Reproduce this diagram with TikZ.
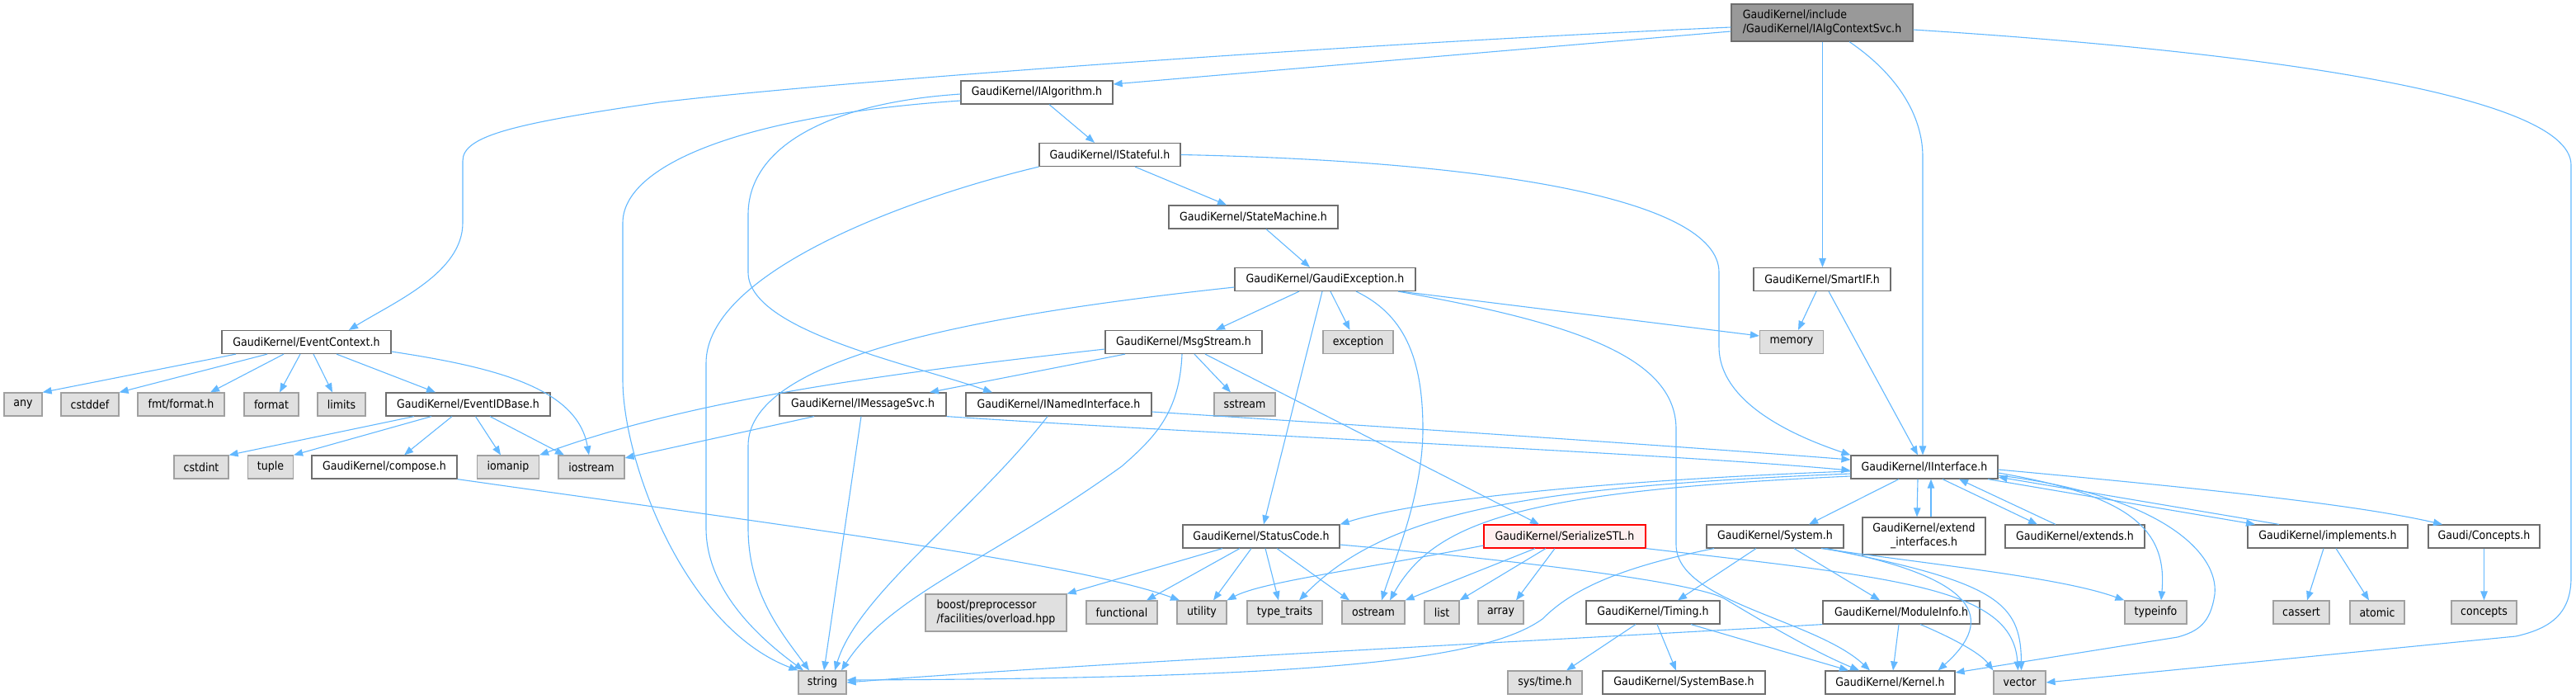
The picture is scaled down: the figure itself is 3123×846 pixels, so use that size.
\documentclass[tikz,border=0pt]{standalone}
\usepackage{fontspec}
\setmainfont{DejaVu Sans Condensed}
\usepackage{xcolor}
\definecolor{inclblue}{RGB}{99, 184, 255}
\definecolor{hdrgray}{RGB}{110, 110, 110}
\definecolor{stdgray}{RGB}{160, 160, 160}
\definecolor{stdfill}{RGB}{224, 224, 224}
\definecolor{mainfill}{RGB}{153, 153, 153}
\definecolor{cutred}{RGB}{255, 0, 0}
\definecolor{cutfill}{RGB}{255, 240, 240}
\usetikzlibrary{arrows.meta}

\tikzset{
    hdr/.style={draw=hdrgray, fill=white, line width=1.2pt, minimum height=28pt,
        inner sep=0pt, font=\fontsize{14}{17}\selectfont},
    stdhdr/.style={hdr, draw=stdgray, fill=stdfill},
    mainhdr/.style={hdr, fill=mainfill, minimum height=45pt, align=left},
    cuthdr/.style={hdr, draw=cutred, fill=cutfill},
    incl/.style={draw=inclblue, line width=1.1pt, -{Triangle[length=11pt, width=8.5pt]}}
}

\begin{document}
\begin{tikzpicture}[x=1pt, y=-1pt]

\useasboundingbox (0,0) rectangle (3123,846);

% =====================================================
% NODOS: ficheros de cabecera
% =====================================================

% --- Fichero principal ---
\node[mainhdr, minimum width=220pt] (root) at (2209,27.5)
    {GaudiKernel/include\\/GaudiKernel/IAlgContextSvc.h};

% --- Cadena IAlgorithm -> GaudiException ---
\node[hdr, minimum width=184pt] (ialg) at (1257,112) {GaudiKernel/IAlgorithm.h};
\node[hdr, minimum width=171pt] (istate) at (1345.5,187.5) {GaudiKernel/IStateful.h};
\node[hdr, minimum width=205pt] (statem) at (1519.5,263) {GaudiKernel/StateMachine.h};
\node[hdr, minimum width=219pt] (gexc) at (1606.5,338.5) {GaudiKernel/GaudiException.h};
\node[hdr, minimum width=166pt] (smartif) at (2209,338.5) {GaudiKernel/SmartIF.h};

% --- Fila de EventContext / MsgStream ---
\node[hdr, minimum width=205pt] (evctx) at (371.5,414.5) {GaudiKernel/EventContext.h};
\node[hdr, minimum width=190pt] (msgs) at (1435,414.5) {GaudiKernel/MsgStream.h};
\node[stdhdr, minimum width=85pt] (exc) at (1646.5,414.5) {exception};
\node[stdhdr, minimum width=77pt] (memory) at (2172,414.5) {memory};

% --- Fila 490 ---
\foreach \nm/\cx/\bw/\txt in {any/28/46/any, cstddef/109/70/cstddef,
        fmtfmt/219.5/105/{fmt/format.h}, format/329/66/format,
        limits/414/58/limits, sstream/1509/74/sstream} {
    \node[stdhdr, minimum width=\bw pt] (\nm) at (\cx,490) {\txt};
}
\node[hdr, minimum width=199pt] (evid) at (567.5,490) {GaudiKernel/EventIDBase.h};
\node[hdr, minimum width=202pt] (imsg) at (1046,490) {GaudiKernel/IMessageSvc.h};
\node[hdr, minimum width=225pt] (inamed) at (1283.5,490) {GaudiKernel/INamedInterface.h};

% --- Fila 566 ---
\foreach \nm/\cx/\bw/\txt in {cstdint/244/66/cstdint, tuple/328/55/tuple,
        iomanip/616/75/iomanip, iostream/717/80/iostream} {
    \node[stdhdr, minimum width=\bw pt] (\nm) at (\cx,566) {\txt};
}
\node[hdr, minimum width=176pt] (compose) at (466,566) {GaudiKernel/compose.h};
\node[hdr, minimum width=178pt] (iiface) at (2333,566) {GaudiKernel/IInterface.h};

% --- Fila 650 ---
\node[hdr, minimum width=190pt] (status) at (1529,650) {GaudiKernel/StatusCode.h};
\node[cuthdr, minimum width=196pt] (serial) at (1897,650) {GaudiKernel/SerializeSTL.h};
\node[hdr, minimum width=166pt] (system) at (2152,650) {GaudiKernel/System.h};
\node[hdr, minimum width=149pt, minimum height=45pt, align=center] (extend) at (2332.5,649.5)
    {GaudiKernel/extend\\\_interfaces.h};
\node[hdr, minimum width=169pt] (extends) at (2515.5,650) {GaudiKernel/extends.h};
\node[hdr, minimum width=194pt] (implem) at (2822,650) {GaudiKernel/implements.h};
\node[hdr, minimum width=135pt] (concepth) at (3011.5,650) {Gaudi/Concepts.h};

% --- Fila 742 ---
\node[stdhdr, minimum width=171pt, minimum height=45pt, align=left] (boost) at (1207.5,742.5)
    {boost/preprocessor\\/facilities/overload.hpp};
\foreach \nm/\cx/\bw/\txt in {functional/1360/86/functional, utility/1457/60/utility,
        typetr/1557.5/91/type\_traits, ostream/1665/76/ostream, list/1748/42/list,
        array/1819.5/55/array, typeinfo/2613.5/75/typeinfo, cassert/2790/68/cassert,
        atomic/2882/66/atomic, concepts/3011.5/79/concepts} {
    \node[stdhdr, minimum width=\bw pt] (\nm) at (\cx,742) {\txt};
}
\node[hdr, minimum width=162pt] (timing) at (2004,742) {GaudiKernel/Timing.h};
\node[hdr, minimum width=190pt] (modinfo) at (2305,742) {GaudiKernel/ModuleInfo.h};

% --- Fila 827 ---
\foreach \nm/\cx/\bw/\txt in {string/997/58/string, systime/1873/90/{sys/time.h},
        vector/2448.5/63/vector} {
    \node[stdhdr, minimum width=\bw pt] (\nm) at (\cx,827) {\txt};
}
\node[hdr, minimum width=197pt] (sysbase) at (2041.5,827) {GaudiKernel/SystemBase.h};
\node[hdr, minimum width=157pt] (kernel) at (2291.5,827) {GaudiKernel/Kernel.h};

% =====================================================
% DEPENDENCIAS (#include)
% =====================================================

% --- desde IAlgContextSvc.h ---
\draw[incl] ([yshift=-10.5]root.west) -- ([yshift=10]ialg.east);
\draw[incl] ([yshift=-5.5]root.west) .. controls (1600,55) and (1000,100) .. (800,124)
    .. controls (620,150) and (561,165) .. (561,195) -- (561,270)
    .. controls (561,330) and (480,365) .. ([xshift=51.5]evctx.north);
\draw[incl] ([xshift=0.5]root.south) -- ([xshift=0.5]smartif.north);
\draw[incl] ([xshift=33]root.south) .. controls (2300,90) and (2331,140) .. (2331,190)
    -- ([xshift=-2]iiface.north);
\draw[incl] ([yshift=-8.5]root.east) .. controls (2700,60) and (3117,110) .. (3117,200)
    -- (3117,700) .. controls (3117,745) and (3090,762) .. (3050,771) -- (vector.east);

% --- desde IAlgorithm.h ---
\draw[incl] ([xshift=15]ialg.south) -- ([xshift=-18.5]istate.north);
\draw[incl] ([yshift=-2]ialg.west) .. controls (1000,125) and (907,180) .. (907,260)
    -- (907,330) .. controls (907,400) and (1100,440) .. ([xshift=-80.5]inamed.north);
\draw[incl] ([yshift=-10]ialg.west) .. controls (900,140) and (755,200) .. (755,270)
    -- (755,460) .. controls (755,560) and (830,760) .. (string.north west);

% --- desde IStateful.h ---
\draw[incl] ([xshift=30.5]istate.south) -- ([xshift=-32.5]statem.north);
\draw[incl] (istate.east) .. controls (1800,195) and (2084,240) .. (2084,330)
    -- (2084,420) .. controls (2084,490) and (2180,530) .. (iiface.north west);
\draw[incl] (istate.south west) .. controls (1100,240) and (856,330) .. (856,440)
    -- (856,640) .. controls (856,720) and (930,780) .. ([xshift=-23]string.north);

% --- desde StateMachine.h ---
\draw[incl] ([xshift=15.5]statem.south) -- ([xshift=-18.5]gexc.north);

% --- desde GaudiException.h ---
\draw[incl] ([xshift=-31.5]gexc.south) -- ([xshift=39]msgs.north);
\draw[incl] ([xshift=6.5]gexc.south) -- ([xshift=-10]exc.north);
\draw[incl] ([xshift=-3.5]gexc.south) -- ([xshift=3]status.north);
\draw[incl] ([xshift=37.5]gexc.south) .. controls (1700,380) and (1725,430) .. (1725,520)
    .. controls (1725,600) and (1690,680) .. ([xshift=10]ostream.north);
\draw[incl] ([xshift=91.5]gexc.south) -- ([yshift=7.5]memory.west);
\draw[incl] ([xshift=88.5]gexc.south) .. controls (1900,390) and (2032,430) .. (2032,520)
    -- (2032,660) .. controls (2032,730) and (2200,750) .. ([xshift=-24.5]kernel.north);
\draw[incl] ([yshift=-9.5]gexc.west) .. controls (1200,380) and (907,430) .. (907,540)
    -- (907,640) .. controls (907,720) and (950,770) .. ([xshift=-16]string.north);

% --- desde SmartIF.h ---
\draw[incl] ([xshift=-7]smartif.south) -- ([xshift=8]memory.north);
\draw[incl] ([xshift=8]smartif.south) -- ([xshift=-8]iiface.north);

% --- desde MsgStream.h ---
\draw[incl] ([xshift=-71]msgs.south) -- ([xshift=81]imsg.north);
\draw[incl] ([xshift=13]msgs.south) -- ([xshift=-17]sstream.north);
\draw[incl] ([xshift=26]msgs.south) -- ([xshift=-31]serial.north);
\draw[incl] ([yshift=-8.5]msgs.west) .. controls (1100,450) and (850,480) .. (iomanip.north east);
\draw[incl] ([xshift=-2]msgs.south) .. controls (1430,500) and (1400,530) .. (1360,565)
    .. controls (1200,680) and (1080,720) .. ([xshift=23]string.north);

% --- desde IMessageSvc.h e INamedInterface.h ---
\draw[incl] (imsg.south east) .. controls (1500,528) and (2000,548) .. ([yshift=-4]iiface.west);
\draw[incl] ([xshift=-59]imsg.south) -- ([yshift=11]iostream.east);
\draw[incl] ([xshift=-2]imsg.south) -- ([xshift=2]string.north);
\draw[incl] ([yshift=-9]inamed.east) .. controls (1600,512) and (2000,538) .. ([yshift=9]iiface.west);
\draw[incl] ([xshift=-13.5]inamed.south) .. controls (1180,620) and (1040,720) .. ([xshift=15]string.north);

% --- desde EventContext.h ---
\draw[incl] ([xshift=-85.5]evctx.south) -- (any.north east);
\draw[incl] ([xshift=-47.5]evctx.south) -- (cstddef.north east);
\draw[incl] ([xshift=-27.5]evctx.south) -- ([xshift=35.5]fmtfmt.north);
\draw[incl] ([xshift=-7.5]evctx.south) -- ([xshift=10]format.north);
\draw[incl] ([xshift=8.5]evctx.south) -- ([xshift=-11]limits.north);
\draw[incl] ([xshift=36.5]evctx.south) -- ([xshift=-39.5]evid.north);
\draw[incl] ([yshift=-11.5]evctx.east) .. controls (600,445) and (700,470) .. ([xshift=-3]iostream.north);

% --- desde EventIDBase.h y compose.h ---
\draw[incl] ([xshift=-65.5]evid.south) -- (cstdint.north east);
\draw[incl] ([xshift=-44.5]evid.south) -- (tuple.north east);
\draw[incl] ([xshift=-19.5]evid.south) -- ([xshift=24]compose.north);
\draw[incl] ([xshift=9]evid.south) -- ([xshift=-9]iomanip.north);
\draw[incl] ([xshift=26.5]evid.south) -- ([xshift=-33]iostream.north);
\draw[incl] (compose.south east) .. controls (900,630) and (1300,680) .. ([xshift=-27]utility.north);

% --- desde IInterface.h ---
\draw[incl] ([yshift=-5]iiface.west) .. controls (1950,582) and (1720,605) .. (status.north east);
\draw[incl] ([yshift=-8]iiface.west) .. controls (1850,590) and (1680,620) .. ([xshift=17.5]typetr.north);
\draw[incl] ([yshift=-11]iiface.west) .. controls (1850,595) and (1740,630) .. ([xshift=20]ostream.north);
\draw[incl] ([xshift=-31]iiface.south) -- ([xshift=41]system.north);
\draw[incl] ([xshift=-8]iiface.south) -- ([xshift=-8.5]extend.north);
\draw[incl] ([xshift=22]iiface.south) -- ([xshift=-45.5]extends.north);
\draw[incl] ([xshift=77]iiface.south) -- ([xshift=-88]implem.north);
\draw[incl] ([yshift=-3]iiface.east) .. controls (2650,590) and (2850,610) .. ([xshift=-50.5]concepth.north);
\draw[incl] ([yshift=-7]iiface.east) .. controls (2580,600) and (2628,640) .. ([xshift=6.5]typeinfo.north);
\draw[incl] ([yshift=-10]iiface.east) .. controls (2620,600) and (2690,670) .. (2685,720)
    .. controls (2680,755) and (2665,765) .. (2640,772) -- ([yshift=12]kernel.east);

% --- de vuelta a IInterface.h ---
\draw[incl] ([xshift=8.5]extend.north) -- ([xshift=8]iiface.south);
\draw[incl] ([xshift=-23.5]extends.north) -- ([xshift=42]iiface.south);
\draw[incl] ([xshift=-59]implem.north) -- ([yshift=-12]iiface.east);

% --- desde StatusCode.h ---
\draw[incl] ([xshift=-47]status.south) -- (boost.north east);
\draw[incl] ([xshift=-26]status.south) -- ([xshift=30]functional.north);
\draw[incl] ([xshift=-12]status.south) -- ([xshift=14]utility.north);
\draw[incl] ([xshift=5]status.south) -- ([xshift=-7.5]typetr.north);
\draw[incl] ([xshift=19]status.south) -- ([xshift=-29]ostream.north);
\draw[incl] ([yshift=-10]status.east) .. controls (1850,680) and (2050,705) .. (2090,725)
    .. controls (2140,755) and (2200,790) .. ([xshift=-37.5]kernel.north);

% --- desde SerializeSTL.h ---
\draw[incl] ([xshift=-36]serial.south) -- (ostream.north east);
\draw[incl] ([xshift=-23]serial.south) -- (list.north east);
\draw[incl] ([xshift=-12]serial.south) -- ([xshift=18.5]array.north);
\draw[incl] ([yshift=-11]serial.west) .. controls (1650,690) and (1530,705) .. (utility.north east);
\draw[incl] (serial.south east) .. controls (2300,700) and (2440,712) .. ([xshift=-2]vector.north);

% --- desde System.h ---
\draw[incl] ([xshift=-23]system.south) -- ([xshift=30]timing.north);
\draw[incl] ([xshift=23]system.south) -- ([xshift=-26]modinfo.north);
\draw[incl] ([xshift=-74]system.south) .. controls (1950,690) and (1900,720) .. (1870,750)
    .. controls (1800,800) and (1600,822) .. ([yshift=3]string.east);
\draw[incl] ([xshift=56]system.south) .. controls (2350,685) and (2500,700) .. (typeinfo.north west);
\draw[incl] ([xshift=60]system.south) .. controls (2420,705) and (2450,730) .. ([xshift=2]vector.north);
\draw[incl] ([xshift=62]system.south) .. controls (2400,700) and (2420,750) .. ([xshift=58]kernel.north);

% --- desde Timing.h y ModuleInfo.h ---
\draw[incl] ([xshift=-21]timing.south) -- ([xshift=26]systime.north);
\draw[incl] ([xshift=5]timing.south) -- ([xshift=-9.5]sysbase.north);
\draw[incl] ([xshift=46]timing.south) -- ([xshift=-50.5]kernel.north);
\draw[incl] ([xshift=-3]modinfo.south) -- ([xshift=3.5]kernel.north);
\draw[incl] (modinfo.south west) .. controls (1800,780) and (1300,805) .. (string.east);
\draw[incl] ([xshift=23]modinfo.south) .. controls (2360,770) and (2400,790) .. (vector.north west);

% --- desde implements.h y Concepts.h ---
\draw[incl] ([xshift=-5]implem.south) -- ([xshift=7]cassert.north);
\draw[incl] ([xshift=10]implem.south) -- ([xshift=-10]atomic.north);
\draw[incl] (concepth.south) -- (concepts.north);

\end{tikzpicture}
\end{document}
